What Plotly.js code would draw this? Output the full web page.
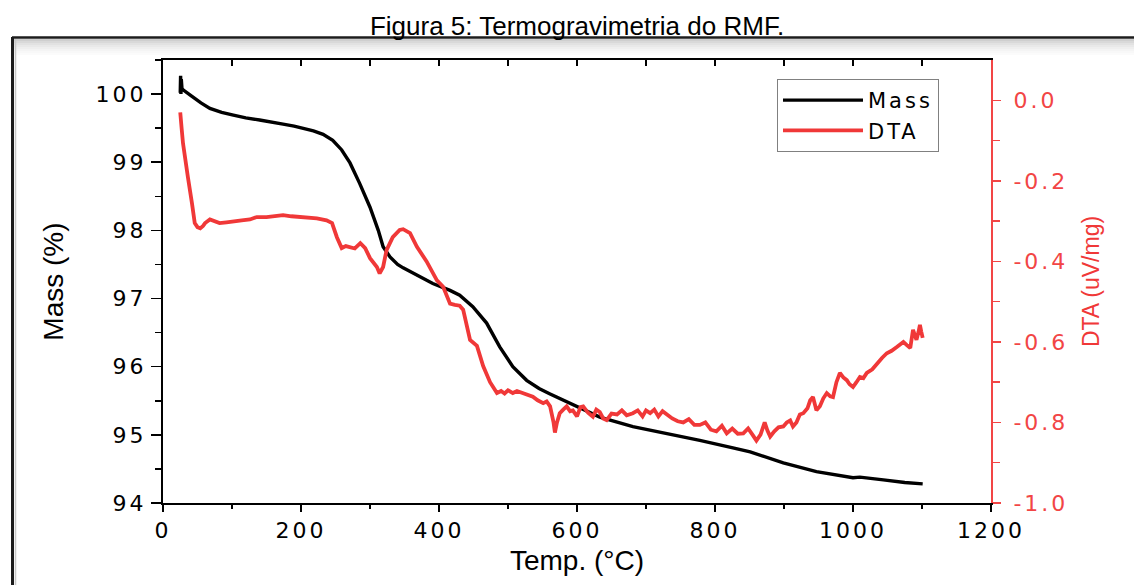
<!DOCTYPE html>
<html>
<head>
<meta charset="utf-8">
<script src="https://cdn.plot.ly/plotly-3.0.1.min.js"></script>
<style>
  html, body { margin: 0; padding: 0; background: #ffffff; }
  #chart { width: 1134px; height: 585px; }
  .xtick text, .ytick text, .y2tick text { letter-spacing: 3px; }
  .legendtext { letter-spacing: 3px; }
</style>
</head>
<body>
<div id="chart"></div>
<script>
// ---- Data ----
const massTemp = [25, 25.5, 26, 26.5, 27.5, 29.5, 40, 55, 68, 85, 102, 120, 140, 160, 174, 190, 203, 218, 232, 246, 259, 271, 285, 300, 312, 319, 329, 340, 348, 368, 391, 416, 430, 449, 469, 488, 507, 527, 545, 561, 594, 633, 681, 730, 778, 826, 851, 899, 947, 1000, 1010, 1044, 1075, 1101];
const massValue = [100.02, 100.27, 100.00, 100.22, 100.08, 100.06, 99.98, 99.87, 99.79, 99.73, 99.69, 99.65, 99.62, 99.59, 99.56, 99.53, 99.50, 99.46, 99.41, 99.32, 99.18, 98.99, 98.69, 98.34, 98.00, 97.76, 97.61, 97.50, 97.45, 97.34, 97.22, 97.12, 97.05, 96.88, 96.64, 96.29, 96.00, 95.80, 95.68, 95.60, 95.44, 95.26, 95.12, 95.02, 94.92, 94.81, 94.75, 94.59, 94.46, 94.37, 94.38, 94.34, 94.30, 94.28];

const dtaTemp = [25, 25.5, 26, 27, 29, 32, 36, 42, 46, 50, 54, 58, 61, 68, 75, 82, 92, 102, 114, 126, 136, 150, 162, 174, 186, 198, 210, 223, 237, 245, 252, 259, 265, 271, 278, 286, 293, 300, 310, 314, 319, 324, 333, 343, 348, 358, 368, 382, 397, 406, 416, 423, 430, 435, 445, 455, 464, 474, 484, 490, 495, 500, 507, 513, 522, 530, 536, 543, 551, 556, 561, 566, 568, 571, 575, 580, 585, 590, 594, 600, 605, 609, 616, 623, 628, 633, 638, 643, 650, 658, 665, 672, 681, 688, 695, 700, 706, 712, 718, 724, 730, 738, 746, 754, 762, 770, 778, 786, 794, 802, 810, 817, 825, 833, 841, 848, 855, 860, 866, 872, 876, 880, 886, 892, 899, 904, 909, 913, 918, 923, 928, 934, 938, 942, 947, 952, 957, 962, 967, 971, 976, 981, 986, 991, 995, 1000, 1005, 1010, 1015, 1020, 1028, 1035, 1042, 1049, 1056, 1064, 1069, 1073, 1078, 1083, 1087, 1090, 1092, 1095, 1097, 1099, 1101];
const dtaValue = [-0.03, -0.06, -0.04, -0.07, -0.107, -0.15, -0.19, -0.256, -0.305, -0.315, -0.318, -0.312, -0.305, -0.296, -0.300, -0.305, -0.303, -0.300, -0.298, -0.296, -0.290, -0.290, -0.288, -0.285, -0.288, -0.290, -0.290, -0.293, -0.298, -0.305, -0.340, -0.367, -0.362, -0.364, -0.368, -0.355, -0.367, -0.392, -0.414, -0.430, -0.414, -0.372, -0.340, -0.322, -0.320, -0.330, -0.364, -0.400, -0.447, -0.463, -0.505, -0.508, -0.510, -0.520, -0.595, -0.610, -0.660, -0.700, -0.727, -0.722, -0.728, -0.720, -0.727, -0.722, -0.727, -0.732, -0.736, -0.745, -0.752, -0.748, -0.760, -0.800, -0.825, -0.800, -0.777, -0.768, -0.760, -0.772, -0.770, -0.785, -0.762, -0.760, -0.776, -0.786, -0.768, -0.774, -0.790, -0.794, -0.778, -0.780, -0.770, -0.782, -0.777, -0.770, -0.785, -0.770, -0.777, -0.768, -0.785, -0.772, -0.780, -0.790, -0.797, -0.800, -0.792, -0.806, -0.806, -0.800, -0.818, -0.822, -0.808, -0.827, -0.815, -0.828, -0.827, -0.815, -0.832, -0.845, -0.830, -0.800, -0.820, -0.835, -0.822, -0.812, -0.810, -0.800, -0.795, -0.810, -0.800, -0.780, -0.777, -0.765, -0.745, -0.737, -0.770, -0.760, -0.740, -0.727, -0.735, -0.737, -0.700, -0.677, -0.688, -0.695, -0.705, -0.712, -0.700, -0.687, -0.690, -0.677, -0.668, -0.653, -0.640, -0.628, -0.622, -0.612, -0.605, -0.600, -0.608, -0.615, -0.570, -0.585, -0.595, -0.575, -0.558, -0.575, -0.590];

const dtaTickVals = [-1.0, -0.8, -0.6, -0.4, -0.2, 0.0];
const dtaTickText = ['-1.0', '-0.8', '-0.6', '-0.4', '-0.2', '0.0'];
const dtaMinorVals = [-0.9, -0.7, -0.5, -0.3, -0.1];

// ---- Styling ----
const RED = '#f03838';
const AXRED = '#f24545';
const SANS = 'Liberation Sans, Arial, sans-serif';
const WIDE = 'DejaVu Sans, sans-serif';

// plot area in pixels: left 163, right 991, top 60, bottom 503
const PL = 163, PR = 991, PT = 60, PB = 503;
const px2x = p => (p - PL) / (PR - PL);
const py2y = p => (PB - p) / (PB - PT);

// frame decoration around the figure (as in the scanned document)
const shapes = [];
const shade = ['#cfcfcf', '#d9d9d9', '#e2e2e2', '#e9e9e9', '#efefef', '#f4f4f4', '#f8f8f8', '#fbfbfb'];
shade.forEach((c, i) => {
  shapes.push({type: 'rect', xref: 'paper', yref: 'paper', layer: 'below',
    x0: px2x(14), x1: px2x(1134), y0: py2y(39 + i * 2), y1: py2y(41 + i * 2),
    line: {width: 0}, fillcolor: c});
});
shapes.push({type: 'line', xref: 'paper', yref: 'paper', x0: px2x(12), x1: px2x(1134), y0: py2y(37.5), y1: py2y(37.5), line: {color: '#1c1c1c', width: 2.5}});
shapes.push({type: 'line', xref: 'paper', yref: 'paper', x0: px2x(12.5), x1: px2x(12.5), y0: py2y(37), y1: py2y(585), line: {color: '#1c1c1c', width: 3}});
shapes.push({type: 'line', xref: 'paper', yref: 'paper', x0: px2x(15.5), x1: px2x(15.5), y0: py2y(39), y1: py2y(585), line: {color: '#c8c8c8', width: 1.5}});

const traces = [
  {x: massTemp, y: massValue, name: 'Mass', type: 'scatter', mode: 'lines',
   xaxis: 'x', yaxis: 'y', line: {color: '#000000', width: 3.4}},
  {x: dtaTemp, y: dtaValue, name: 'DTA', type: 'scatter', mode: 'lines',
   xaxis: 'x2', yaxis: 'y2', line: {color: RED, width: 3.8}}
];

const layout = {
  width: 1134, height: 585,
  margin: {l: PL, r: 1134 - PR, t: PT, b: 585 - PB, pad: 0},
  paper_bgcolor: '#ffffff', plot_bgcolor: 'rgba(0,0,0,0)',
  showlegend: true,
  title: {text: 'Figura 5: Termogravimetria do RMF.', font: {family: SANS, size: 26, color: '#000'},
          x: 0.5, xref: 'paper', y: 0.956, yref: 'container', yanchor: 'middle'},
  legend: {x: px2x(777), y: py2y(79), xanchor: 'left', yanchor: 'top',
           bgcolor: '#ffffff', bordercolor: '#808080', borderwidth: 1,
           font: {family: WIDE, size: 21, color: '#000'}, itemwidth: 80, tracegroupgap: 0},
  xaxis: {range: [0, 1200], tick0: 0, dtick: 200, ticks: 'outside', ticklen: 7, tickwidth: 1.5,
          tickcolor: '#000', showline: true, linecolor: '#000', linewidth: 2, showgrid: false, zeroline: false,
          minor: {dtick: 100, ticks: 'outside', ticklen: 4, tickwidth: 1.5, tickcolor: '#000'},
          tickfont: {family: WIDE, size: 22, color: '#000'},
          title: {text: 'Temp. (°C)', font: {family: SANS, size: 28, color: '#000'}, standoff: 8},
          fixedrange: true},
  xaxis2: {range: [0, 1200], overlaying: 'x', side: 'top', anchor: 'y', tick0: 0, dtick: 100,
           ticks: 'inside', ticklen: 6, tickwidth: 1.5, tickcolor: '#000', showticklabels: false,
           showline: true, linecolor: '#000', linewidth: 2, showgrid: false, zeroline: false, fixedrange: true},
  yaxis: {range: [94, 100.5], tick0: 94, dtick: 1, ticks: 'outside', ticklen: 10, tickwidth: 1.5,
          tickcolor: '#000', showline: true, linecolor: '#000', linewidth: 2, showgrid: false, zeroline: false,
          minor: {dtick: 0.5, ticks: 'outside', ticklen: 6, tickwidth: 1.5, tickcolor: '#000'},
          tickfont: {family: WIDE, size: 22, color: '#000'},
          automargin: true,
          title: {text: 'Mass (%)', font: {family: SANS, size: 28, color: '#000'}, standoff: 24},
          fixedrange: true},
  yaxis2: {range: [-1.0, 0.1], overlaying: 'y', side: 'right', anchor: 'x2',
           tickmode: 'array', tickvals: dtaTickVals, ticktext: dtaTickText,
           ticks: 'outside', ticklen: 8, tickwidth: 1.5, tickcolor: AXRED, ticklabelstandoff: 8,
           showline: true, linecolor: AXRED, linewidth: 2, showgrid: false, zeroline: false,
           minor: {tickmode: 'array', tickvals: dtaMinorVals, ticks: 'outside', ticklen: 7, tickwidth: 1.5, tickcolor: AXRED},
           tickfont: {family: WIDE, size: 22, color: AXRED},
           automargin: true,
           title: {text: 'DTA (uV/mg)', font: {family: SANS, size: 23, color: RED}, standoff: 16},
           fixedrange: true},
  shapes: shapes
};

Plotly.newPlot('chart', traces, layout, {staticPlot: true, displayModeBar: false});
</script>
</body>
</html>
